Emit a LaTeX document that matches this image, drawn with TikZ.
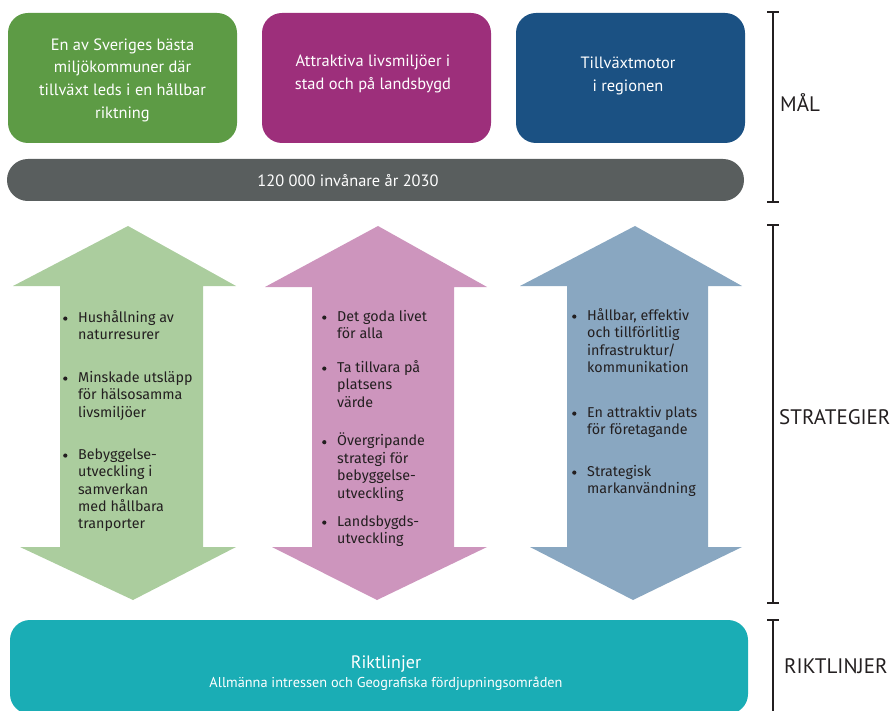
\documentclass[tikz,border=0pt]{standalone}
\usepackage{fontspec}
\setmainfont{PT Sans}
\newfontfamily\armfont{Fira Sans}
\definecolor{cgreen}{HTML}{5D9B45}
\definecolor{cpurple}{HTML}{9D2F7B}
\definecolor{cblue}{HTML}{1B5183}
\definecolor{cgrey}{HTML}{595E5E}
\definecolor{cteal}{HTML}{1AADB5}
\definecolor{agreen}{HTML}{ABCD9E}
\definecolor{apink}{HTML}{CD95BD}
\definecolor{ablue}{HTML}{89A7C1}
\definecolor{ink}{HTML}{231F20}
\newcommand{\bl}{\hspace{1pt}\raisebox{1.7pt}{\tikz\fill[ink] (0,0) circle (2.1pt);}}
\tikzset{
  goalbox/.style={rounded corners=20pt, inner sep=0pt, minimum width=229pt, minimum height=130pt},
  goaltext/.style={text=white, align=center, inner sep=0pt, font=\fontsize{16.4}{22.7}\selectfont},
  itm/.style={anchor=north west, inner sep=0pt, text=ink, font=\armfont\fontsize{14.3}{17.4}\selectfont},
  lbl/.style={anchor=west, inner sep=0pt, text=ink, font=\fontsize{21}{24}\selectfont},
  bracket/.style={draw=ink, line width=1.4pt},
}
\begin{document}
\begin{tikzpicture}[x=1pt,y=-1pt]
\useasboundingbox (0,0) rectangle (893,711);

% goal boxes
\node[goalbox, fill=cgreen] (g1) at (122.5,78) {};
\node[goalbox, fill=cpurple] (g2) at (376.5,78) {};
\node[goalbox, fill=cblue] (g3) at (630.5,78) {};
\node[goaltext] (g1t) at (122.5,80) {En av Sveriges bästa\\miljökommuner där\\tillväxt leds i en hållbar\\riktning};
\node[goaltext] (g2t) at (373,74) {Attraktiva livsmiljöer i\\stad och på landsbygd};
\node[goaltext] (g3t) at (628,76) {Tillväxtmotor\\i regionen};

% population bar
\node[fill=cgrey, rounded corners=20.9pt, inner sep=0pt, minimum width=737pt, minimum height=42pt] (pop) at (375.5,180) {};
\node[goaltext] (popt) at (348,180.5) {120 000 invånare år 2030};

% strategy arrows
\fill[agreen] (128,226) -- (236,286) -- (203,286) -- (203,547) -- (236,547) -- (133,600)
  -- (20,547) -- (60,547) -- (60,286) -- (13,286) -- cycle;
\fill[apink] (378,226) -- (487,287) -- (454,287) -- (454,547) -- (487,547) -- (377,600)
  -- (272,547) -- (312,547) -- (312,287) -- (265,287) -- cycle;
\fill[ablue] (635,226) -- (742,286) -- (708,286) -- (708,547) -- (742,547) -- (633,600)
  -- (530,547) -- (567,547) -- (567,286) -- (520,286) -- cycle;

% green items
\node[itm] (a1) at (62,310) {\begin{tabular}{@{}p{16pt}@{}l@{}}\bl & Hushållning av\\ & naturresurer\end{tabular}};
\node[itm] (a2) at (62,370) {\begin{tabular}{@{}p{16pt}@{}l@{}}\bl & Minskade utsläpp\\ & för hälsosamma\\ & livsmiljöer\end{tabular}};
\node[itm] (a3) at (62,447) {\begin{tabular}{@{}p{16pt}@{}l@{}}\bl & Bebyggelse-\\ & utveckling i\\ & samverkan\\ & med hållbara\\ & tranporter\end{tabular}};

% pink items
\node[itm] (b1) at (321,309) {\begin{tabular}{@{}p{16pt}@{}l@{}}\bl & Det goda livet\\ & för alla\end{tabular}};
\node[itm] (b2) at (321,360) {\begin{tabular}{@{}p{16pt}@{}l@{}}\bl & Ta tillvara på\\ & platsens\\ & värde\end{tabular}};
\node[itm] (b3) at (321,433) {\begin{tabular}{@{}p{16pt}@{}l@{}}\bl & Övergripande\\ & strategi för\\ & bebyggelse-\\ & utveckling\end{tabular}};
\node[itm] (b4) at (321,514) {\begin{tabular}{@{}p{16pt}@{}l@{}}\bl & Landsbygds-\\ & utveckling\end{tabular}};

% blue items
\node[itm] (c1) at (571,308) {\begin{tabular}{@{}p{16pt}@{}l@{}}\bl & Hållbar, effektiv\\ & och tillförlitlig\\ & infrastruktur/\\ & kommunikation\end{tabular}};
\node[itm] (c2) at (571,405) {\begin{tabular}{@{}p{16pt}@{}l@{}}\bl & En attraktiv plats\\ & för företagande\end{tabular}};
\node[itm] (c3) at (571,464) {\begin{tabular}{@{}p{16pt}@{}l@{}}\bl & Strategisk\\ & markanvändning\end{tabular}};

% guidelines box
\node[fill=cteal, rounded corners=20pt, inner sep=0pt, minimum width=738pt, minimum height=94pt] (rik) at (379,667) {};
\node[text=white, inner sep=0pt, anchor=base, font=\fontsize{18}{20}\selectfont] (rikt) at (386,668) {Riktlinjer};
\node[text=white, inner sep=0pt, anchor=base, font=\fontsize{14.3}{16}\selectfont] (riks) at (386,687) {Allmänna intressen och Geografiska fördjupningsområden};

% brackets
\draw[bracket] (767,12) -- (779,12) (773,12) -- (773,202) (767,202) -- (779,202);
\draw[bracket] (767,225) -- (779,225) (773,225) -- (773,603) (767,603) -- (779,603);
\draw[bracket] (767,620) -- (779,620) (773,620) -- (773,712);
\node[lbl] (lmal) at (780,103) {MÅL};
\node[lbl] (lstr) at (779,417) {STRATEGIER};
\node[lbl] (lrik) at (784,666) {RIKTLINJER};
\end{tikzpicture}
\end{document}
